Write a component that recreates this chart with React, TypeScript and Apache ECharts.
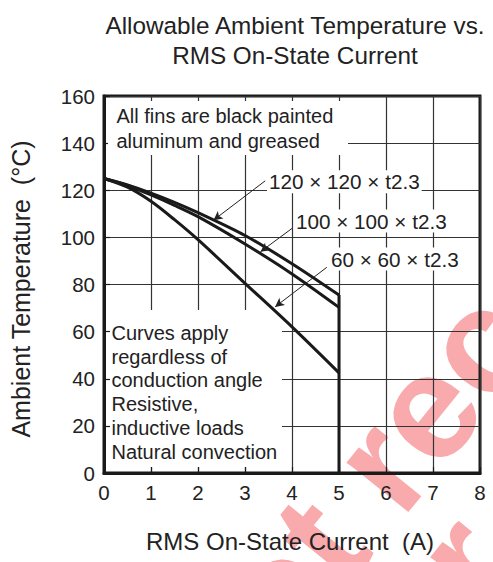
import React, { useEffect, useRef } from "react";
import * as echarts from "echarts";

const FONT = "'Liberation Sans', Arial, Helvetica, sans-serif";

// Data
const currentA = [0, 0.5, 1, 1.5, 2, 3, 4, 5];
const fin120 = [125, 122.3, 118.8, 114.9, 110.5, 100.8, 88.8, 75.5];
const fin100 = [125, 122, 118, 113.6, 108.8, 97.2, 84.5, 70.3];
const fin60 = [125, 121.3, 115.3, 107.5, 99, 80.5, 62, 42.5];
const cutoffX = [5, 5];
const cutoffY = [75.5, 0];

const xTicks = [0, 8, 1];
const yTicks = [0, 160, 20];

// leader lines: [fromX, fromY, toX, toY]
const leader120 = [3.43, 124.0, 2.33, 107.3];
const leader100 = [4.0, 103.8, 3.33, 93.9];
const leader60 = [4.74, 87.3, 3.64, 70.5];

const label120 = "120 × 120 × t2.3";
const label100 = "100 × 100 × t2.3";
const label60 = "60 × 60 × t2.3";

const toPairs = (xs: number[], ys: number[]) => xs.map((x, i) => [x, ys[i]]);

const leaderMark = (l: number[]) => ({
  silent: true,
  symbol: ["none", "arrow"],
  symbolSize: [7, 9],
  label: { show: false },
  lineStyle: { color: "#222", width: 1, type: "solid" },
  emphasis: { disabled: true },
  data: [[{ coord: [l[0], l[1]] }, { coord: [l[2], l[3]] }]],
});

const txt = (
  text: string,
  x: number,
  y: number,
  extra: any = {},
  z = 5,
  size = 20
) => ({
  type: "text",
  x,
  y,
  z,
  silent: true,
  style: {
    text,
    fill: "#222",
    font: `${size}px ${FONT}`,
    fontSize: size,
    fontFamily: FONT,
    align: "left",
    textAlign: "left",
    verticalAlign: "middle",
    textVerticalAlign: "middle",
    ...extra,
  },
});

export default function App() {
  const ref = useRef<HTMLDivElement>(null);
  useEffect(() => {
    if (!ref.current) return;
    const chart = echarts.init(ref.current, undefined, { renderer: "svg" });
    const ang = (51 * Math.PI) / 180;
    const wm = (text: string, x: number, y: number) => ({
      type: "text",
      x,
      y,
      rotation: ang,
      z: -10,
      silent: true,
      style: {
        text,
        fill: "#f9aaad",
        font: `bold 150px ${FONT}`,
        align: "left",
        textAlign: "left",
        verticalAlign: "middle",
        textVerticalAlign: "middle",
      },
    });
    const lineSeries = (name: string, ys: number[], leader: number[]) => ({
      name,
      type: "line",
      data: toPairs(currentA, ys),
      smooth: 0.3,
      showSymbol: false,
      lineStyle: { color: "#1a1a1a", width: 3 },
      z: 3,
      markLine: leaderMark(leader),
    });
    const option: any = {
      animation: false,
      backgroundColor: "#fff",
      title: {
        text: "Allowable Ambient Temperature vs.\nRMS On-State Current",
        left: 290,
        top: 6,
        textAlign: "center",
        textStyle: {
          fontSize: 24.3,
          fontWeight: "normal",
          color: "#222",
          lineHeight: 29.5,
          fontFamily: FONT,
        },
      },
      grid: {
        left: 104,
        top: 96,
        width: 376,
        height: 377,
        show: true,
        borderColor: "#1a1a1a",
        borderWidth: 3,
        backgroundColor: "transparent",
      },
      xAxis: {
        type: "value",
        min: xTicks[0],
        max: xTicks[1],
        interval: xTicks[2],
        axisLine: { show: true, lineStyle: { color: "#1a1a1a", width: 3 } },
        axisTick: {
          show: true,
          inside: true,
          length: 6,
          lineStyle: { color: "#1a1a1a", width: 1.2 },
        },
        axisLabel: { fontSize: 20.5, color: "#222", margin: 9, fontFamily: FONT },
        splitLine: { show: true, lineStyle: { color: "#333", width: 1.2 } },
      },
      yAxis: {
        type: "value",
        min: yTicks[0],
        max: yTicks[1],
        interval: yTicks[2],
        axisLine: { show: true, lineStyle: { color: "#1a1a1a", width: 3 } },
        axisTick: {
          show: true,
          inside: true,
          length: 6,
          lineStyle: { color: "#1a1a1a", width: 1.2 },
        },
        axisLabel: { fontSize: 20.5, color: "#222", margin: 9, fontFamily: FONT },
        splitLine: { show: true, lineStyle: { color: "#333", width: 1.2 } },
      },
      series: [
        lineSeries("120x120", fin120, leader120),
        lineSeries("100x100", fin100, leader100),
        lineSeries("60x60", fin60, leader60),
        {
          name: "cutoff",
          type: "line",
          data: toPairs(cutoffX, cutoffY),
          showSymbol: false,
          lineStyle: { color: "#1a1a1a", width: 3 },
          z: 3,
        },
      ],
      graphic: [
        // watermark
        wm("Not recommended", 178, 714),
        wm("for new design", 356, 692),
        // top note box
        {
          type: "rect",
          z: 1,
          silent: true,
          shape: { x: 108, y: 101, width: 240, height: 54 },
          style: { fill: "#fff" },
        },
        txt("All fins are black painted\naluminum and greased", 116.5, 128.5, {
          lineHeight: 25,
        }),
        // bottom note box
        {
          type: "rect",
          z: 1,
          silent: true,
          shape: { x: 110, y: 310, width: 172, height: 157 },
          style: { fill: "#fff" },
        },
        txt(
          "Curves apply\nregardless of\nconduction angle\nResistive,\ninductive loads\nNatural convection",
          111.5,
          392.3,
          { lineHeight: 23.7 }
        ),
        // curve labels
        txt(label120, 267, 181.7, { backgroundColor: "#fff", padding: [1, 2] }, 5, 20.7),
        txt(label100, 294, 221, { backgroundColor: "#fff", padding: [1, 2] }, 5, 20.7),
        txt(label60, 329, 259, { backgroundColor: "#fff", padding: [1, 2] }, 5, 20.7),
        // axis names
        txt(
          "RMS On-State Current  (A)",
          290,
          541,
          { align: "center", textAlign: "center" },
          5,
          24
        ),
        {
          ...txt(
            "Ambient Temperature  (°C)",
            21,
            289,
            { align: "center", textAlign: "center" },
            5,
            25
          ),
          rotation: Math.PI / 2,
        },
      ],
    };
    chart.setOption(option);
    return () => chart.dispose();
  }, []);
  return (
    <div
      ref={ref}
      style={{ position: "fixed", left: 0, top: 0, width: 493, height: 562 }}
    />
  );
}
